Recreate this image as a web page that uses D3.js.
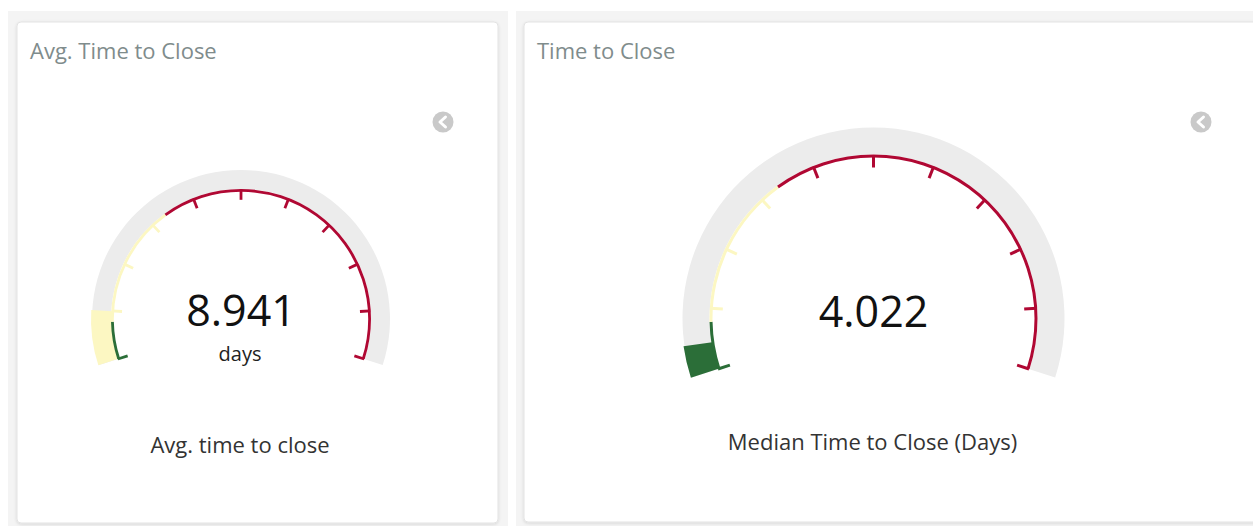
<!DOCTYPE html>
<html>
<head>
<meta charset="utf-8">
<script src="https://cdn.jsdelivr.net/npm/d3@7"></script>
<style>
  html, body { margin: 0; padding: 0; background: #fff; }
  svg { display: block; font-family: "Open Sans", sans-serif; }
</style>
</head>
<body>
<div id="chart"></div>
<script>
var width = 1253;
var height = 526;

// data
var gaugeTitles = ["Avg. Time to Close", "Time to Close"];
var gaugeValues = [8.941, 4.022];
var gaugeUnits = ["days", ""];
var gaugeLabels = ["Avg. time to close", "Median Time to Close (Days)"];
var gaugeMin = [0, 0];
var gaugeMax = [90, 90];
var rangeBreaks = [0, 7, 30, 90];
var rangeColors = ["#2b6e38", "#fcf7c2", "#b00833"];
var tickValues = [0, 9, 18, 27, 36, 45, 54, 63, 72, 81, 90];

// layout of each panel
var panels = [
  { bx: 8, by: 11, bw: 500, x: 17, y: 22, w: 481, h: 501, cx: 241, cy: 319, r: 130, band: 19, tick: 8, line: 2.8, icon: 443, numY: 326, unitY: 361, labelY: 453 },
  { bx: 516, by: 11, bw: 760, x: 524, y: 22, w: 740, h: 500, cx: 873.5, cy: 318.5, r: 164, band: 27, tick: 10, line: 3, icon: 1201, numY: 327, unitY: 361, labelY: 450 }
];

var svg = d3.select("#chart")
  .append("svg")
  .attr("width", width)
  .attr("height", height);

var defs = svg.append("defs");
var shadow = defs.append("filter").attr("id", "shadow")
  .attr("x", "-5%").attr("y", "-5%").attr("width", "110%").attr("height", "110%");
shadow.append("feDropShadow")
  .attr("dx", 0).attr("dy", 1).attr("stdDeviation", 1.5)
  .attr("flood-color", "#000").attr("flood-opacity", 0.12);

function rangeColor(v) {
  for (var i = 0; i < rangeColors.length; i++) {
    if (v <= rangeBreaks[i + 1]) return rangeColors[i];
  }
  return rangeColors[rangeColors.length - 1];
}

panels.forEach(function(p, gi) {
  // background and card
  svg.append("rect")
    .attr("x", p.bx).attr("y", p.by)
    .attr("width", p.bw).attr("height", height - p.by + 10)
    .attr("fill", "#f4f4f4");
  svg.append("rect")
    .attr("x", p.x).attr("y", p.y)
    .attr("width", p.w).attr("height", p.h)
    .attr("rx", 4)
    .attr("fill", "#fff")
    .attr("stroke", "#e3e3e3")
    .attr("filter", "url(#shadow)");

  svg.append("text")
    .attr("x", p.x + 13).attr("y", p.y + 37)
    .attr("fill", "#7f8c8c")
    .attr("font-size", "22px")
    .text(gaugeTitles[gi]);

  // collapse icon
  var ic = svg.append("g").attr("transform", "translate(" + p.icon + ",122)");
  ic.append("circle").attr("r", 10.5).attr("fill", "#c9c9c9");
  ic.append("path").attr("d", "M2.5,-5 L-3,0 L2.5,5")
    .attr("fill", "none").attr("stroke", "#fff").attr("stroke-width", 3)
    .attr("stroke-linecap", "round").attr("stroke-linejoin", "round");

  var angle = d3.scaleLinear()
    .domain([gaugeMin[gi], gaugeMax[gi]])
    .range([-0.6 * Math.PI, 0.6 * Math.PI]);

  var g = svg.append("g").attr("transform", "translate(" + p.cx + "," + p.cy + ")");

  // grey band
  g.append("path")
    .attr("d", d3.arc()({ innerRadius: p.r, outerRadius: p.r + p.band, startAngle: angle(gaugeMin[gi]), endAngle: angle(gaugeMax[gi]) }))
    .attr("fill", "#ececec");

  // value fill
  g.append("path")
    .attr("d", d3.arc()({ innerRadius: p.r - 1, outerRadius: p.r + p.band + 1, startAngle: angle(gaugeMin[gi]), endAngle: angle(gaugeValues[gi]) }))
    .attr("fill", rangeColor(gaugeValues[gi]));

  // range lines on the inner edge
  var ranges = d3.range(rangeColors.length).map(function(i) {
    return { from: rangeBreaks[i], to: rangeBreaks[i + 1], color: rangeColors[i] };
  });
  var lineArc = d3.arc().innerRadius(p.r - p.line).outerRadius(p.r);
  g.selectAll("path.range")
    .data(ranges)
    .enter()
    .append("path")
    .attr("class", "range")
    .attr("d", function(d) { return lineArc({ startAngle: angle(d.from), endAngle: angle(d.to) }); })
    .attr("fill", function(d) { return d.color; });

  // ticks
  g.selectAll("line.tick")
    .data(tickValues)
    .enter()
    .append("line")
    .attr("class", "tick")
    .attr("x1", function(d) { return (p.r - 0.5) * Math.sin(angle(d)); })
    .attr("y1", function(d) { return -(p.r - 0.5) * Math.cos(angle(d)); })
    .attr("x2", function(d) { return (p.r - p.line - p.tick) * Math.sin(angle(d)); })
    .attr("y2", function(d) { return -(p.r - p.line - p.tick) * Math.cos(angle(d)); })
    .attr("stroke", function(d) { return rangeColor(d === 0 ? 0.001 : d); })
    .attr("stroke-width", p.line);

  // texts
  svg.append("text")
    .attr("x", p.cx).attr("y", p.numY)
    .attr("text-anchor", "middle")
    .attr("fill", "#111")
    .attr("font-size", "43px")
    .text(gaugeValues[gi]);
  if (gaugeUnits[gi]) {
    svg.append("text")
      .attr("x", p.cx - 1).attr("y", p.unitY)
      .attr("text-anchor", "middle")
      .attr("fill", "#222")
      .attr("font-size", "20px")
      .text(gaugeUnits[gi]);
  }
  svg.append("text")
    .attr("x", p.cx - 1).attr("y", p.labelY)
    .attr("text-anchor", "middle")
    .attr("fill", "#333")
    .attr("font-size", "22px")
    .text(gaugeLabels[gi]);
});
</script>
</body>
</html>
